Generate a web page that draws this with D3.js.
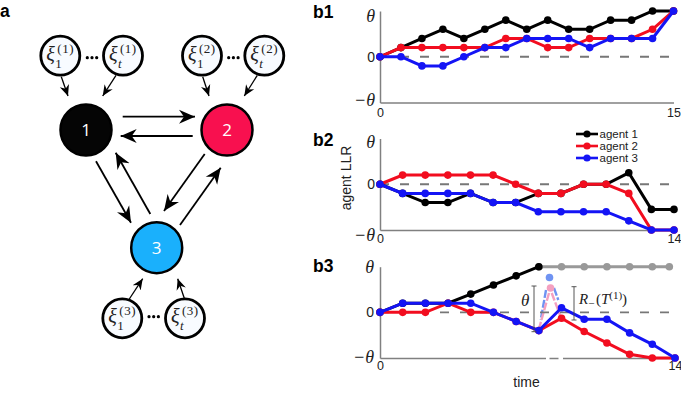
<!DOCTYPE html>
<html>
<head>
<meta charset="utf-8">
<script src="https://cdn.jsdelivr.net/npm/d3@7"></script>
<style>
  body { margin: 0; background: #fff; }
  text { font-family: "Liberation Sans", sans-serif; fill: #222; }
  .math { font-family: "Liberation Serif", serif; font-style: italic; }
</style>
</head>
<body>
<div id="chart"></div>
<script>
// LLR values, in units of theta
const b1Agent1 = [0, .2, .4, .6, .4, .6, .8, .6, .8, .6, .6, .8, .8, 1, 1];
const b1Agent2 = [0, .2, .2, .2, .2, .2, .4, .4, .2, .2, .4, .4, .4, .6, 1];
const b1Agent3 = [0, 0, -.2, -.2, 0, .2, .2, .4, .4, .4, .2, .4, .4, .4, 1];

const b2Agent1 = [0, -.2, -.4, -.4, -.2, -.4, -.4, -.2, -.2, 0, 0, .25, -.55, -.55];
const b2Agent2 = [0, .2, .2, .2, .2, .2, 0, -.2, -.2, 0, 0, -.2, -1, -1];
const b2Agent3 = [0, -.2, -.2, -.2, -.2, -.4, -.4, -.6, -.6, -.6, -.6, -.8, -1, -1];

const b3Agent1 = [0, .2, .2, .2, .4, .6, .8, 1];
const b3Agent1After = [1, 1, 1, 1, 1, 1, 1];
const b3AfterSteps = [7, 8, 9, 10, 11, 12, 12.75];
const b3Agent2 = [0, 0, 0, .2, 0, 0, -.2, -.4, -.13, -.42, -.67, -.92, -1, -1];
const b3Agent3 = [0, .2, .2, .2, .2, 0, -.2, -.4, .1, -.15, -.15, -.45, -.7, -1];

const legendNames = ["agent 1", "agent 2", "agent 3"];
const agentColors = ["#000000", "#f20d1f", "#1414f5"];
const afterColor = "#999999";

const width = 681, height = 394;
const svg = d3.select("#chart").append("svg")
    .attr("width", width)
    .attr("height", height);

// ---------- panel a, the network ----------
svg.append("defs").selectAll("marker")
    .data([["big", 16], ["small", 11]])
    .enter().append("marker")
    .attr("id", (d) => "head-" + d[0])
    .attr("markerUnits", "userSpaceOnUse")
    .attr("viewBox", "-16 -8 17 16")
    .attr("refX", 0).attr("refY", 0)
    .attr("markerWidth", (d) => d[1] * 17 / 16)
    .attr("markerHeight", (d) => d[1])
    .attr("orient", "auto")
    .append("path")
    .attr("d", "M0,0 L-16,-7 L-11,0 L-16,7 Z")
    .attr("fill", "#000");

const mainArrows = [
    [122.7, 116.7, 195, 116.7], [192.7, 136, 120.7, 136],
    [96, 161.3, 131, 222.7], [150.3, 214, 115.7, 152.7],
    [204.7, 154, 164, 211], [180, 225, 220.7, 167.7]
];
const smallArrows = [
    [61.3, 76.7, 68, 96], [116, 75.3, 102.7, 96],
    [202.7, 76.7, 209, 96], [257.3, 75.3, 244.3, 96],
    [129.3, 299, 142.7, 278.7], [184.3, 298.3, 177.7, 278.7]
];

function drawArrows(list, size, sw) {
    svg.append("g").selectAll("line").data(list).enter().append("line")
        .attr("x1", (d) => d[0]).attr("y1", (d) => d[1])
        .attr("x2", (d) => d[2]).attr("y2", (d) => d[3])
        .attr("stroke", "#000")
        .attr("stroke-width", sw)
        .attr("marker-end", "url(#head-" + size + ")");
}
drawArrows(mainArrows, "big", 1.8);
drawArrows(smallArrows, "small", 1.3);

const agents = [
    { name: "1", x: 86, y: 130, fill: "#050505" },
    { name: "2", x: 227, y: 130, fill: "#f8104f" },
    { name: "3", x: 156.7, y: 247.7, fill: "#1ab0fc" }
];
const bigNodes = svg.append("g").selectAll("g").data(agents).enter().append("g")
    .attr("transform", (d) => `translate(${d.x},${d.y})`);
bigNodes.append("circle")
    .attr("r", 25.5)
    .attr("fill", (d) => d.fill)
    .attr("stroke", "#000")
    .attr("stroke-width", 2.5);
bigNodes.append("text")
    .attr("text-anchor", "middle")
    .attr("y", 6)
    .style("font-family", "'Open Sans', sans-serif")
    .style("font-size", "17px")
    .style("fill", "#fff")
    .text((d) => d.name);

const signals = [
    { x: 60.3, y: 55.7, agent: 1, sub: "1" }, { x: 123, y: 55.7, agent: 1, sub: "t" },
    { x: 202, y: 55.7, agent: 2, sub: "1" }, { x: 264.3, y: 55.7, agent: 2, sub: "t" },
    { x: 122.3, y: 318.3, agent: 3, sub: "1" }, { x: 185, y: 318.3, agent: 3, sub: "t" }
];
const sigNodes = svg.append("g").selectAll("g").data(signals).enter().append("g")
    .attr("transform", (d) => `translate(${d.x},${d.y})`);
sigNodes.append("circle")
    .attr("r", 19.5)
    .attr("fill", "#f8fbff")
    .attr("stroke", "#000")
    .attr("stroke-width", 2.8);
sigNodes.append("text")
    .attr("x", -14).attr("y", 5)
    .style("font-family", "'Liberation Serif', serif")
    .style("font-style", "italic")
    .style("font-size", "20px")
    .text("ξ");
sigNodes.append("text")
    .attr("x", -3).attr("y", -3)
    .style("font-family", "'Liberation Serif', serif")
    .style("font-size", "13px")
    .style("letter-spacing", "0.5px")
    .text((d) => `(${d.agent})`);
sigNodes.append("text")
    .attr("x", -5).attr("y", 12)
    .style("font-family", "'Liberation Serif', serif")
    .style("font-style", (d) => d.sub == "t" ? "italic" : "normal")
    .style("font-size", "13px")
    .text((d) => d.sub);

// the three dots between each signal pair
[[87.3, 57.7], [228.7, 57.7], [149, 316.7]].forEach((p) => {
    [0, 4.7, 9.4].forEach((dx) => {
        svg.append("circle")
            .attr("cx", p[0] + dx)
            .attr("cy", p[1])
            .attr("r", 1.6)
            .attr("fill", "#000");
    });
});

// the faded walker in b3, under the agent lines
const walker = [
    ["#6f93f2", [[546, 290, 540.7, 320], [554, 288, 558.3, 300]]],
    ["#f4a0c0", [[549, 293, 539.5, 327], [551.7, 293, 560, 315]]]
];
walker.forEach((w) => {
    svg.append("g").selectAll("line").data(w[1]).enter().append("line")
        .attr("x1", (d) => d[0]).attr("y1", (d) => d[1])
        .attr("x2", (d) => d[2]).attr("y2", (d) => d[3])
        .attr("stroke", w[0])
        .attr("stroke-width", 2.4)
        .attr("stroke-dasharray", "8 2");
});
svg.append("circle").attr("cx", 549.5).attr("cy", 277.5).attr("r", 3.8).attr("fill", "#6f93f2");
svg.append("circle").attr("cx", 550.5).attr("cy", 288).attr("r", 3.8).attr("fill", "#f4a0c0");

// ---------- panels b1 to b3 ----------
function drawPanel(opt) {
    const xScale = d3.scaleLinear().domain([0, opt.lastStep]).range([380, opt.right]);
    const yScale = d3.scaleLinear().domain([-1, 1]).range([opt.bottom, opt.top]);

    // zero line
    svg.append("line")
        .attr("x1", 380).attr("x2", opt.right)
        .attr("y1", yScale(0)).attr("y2", yScale(0))
        .attr("stroke", "#777")
        .attr("stroke-width", 1.8)
        .attr("stroke-dasharray", "9 11");

    // axes
    const xAxis = svg.append("g")
        .attr("transform", `translate(0,${opt.bottom})`)
        .call(d3.axisBottom(xScale)
            .tickValues([0, opt.lastStep])
            .tickFormat((d, i) => opt.xLabels[i])
            .tickSize(0)
            .tickPadding(opt.xPad));
    xAxis.selectAll("text").style("font-size", "12.5px");

    const yAxis = svg.append("g")
        .attr("transform", "translate(380,0)")
        .call(d3.axisLeft(yScale)
            .tickValues([-1, 0, 1])
            .tickFormat((d) => d == 1 ? "θ" : d == -1 ? "−θ" : "0")
            .tickSize(0)
            .tickPadding(opt.yPad));
    yAxis.selectAll("text")
        .attr("class", (d) => d == 0 ? null : "math")
        .attr("transform", (d) => `translate(0,${d == 1 ? opt.thetaDy : d == -1 ? opt.minusDy : 0})`)
        .style("font-size", (d) => d == 0 ? "14px" : "18px");
    svg.selectAll(".domain").attr("stroke", "#808080").attr("stroke-width", 1.5);

    const line = d3.line().x((d) => xScale(d[0])).y((d) => yScale(d[1]));
    opt.series.forEach((s) => {
        const pts = s.values.map((v, i) => [s.steps ? s.steps[i] : i, v]);
        const g = svg.append("g");
        g.append("path")
            .attr("d", line(pts))
            .attr("fill", "none")
            .attr("stroke", s.color)
            .attr("stroke-width", 3);
        g.selectAll("circle").data(pts).enter().append("circle")
            .attr("cx", (d) => xScale(d[0]))
            .attr("cy", (d) => yScale(d[1]))
            .attr("r", 3.8)
            .attr("fill", s.color);
    });
}

drawPanel({
    lastStep: 14, right: 673.5, top: 11, bottom: 102.5, xLabels: ["0", "15"],
    xPad: 6, yPad: 5, thetaDy: 4.5, minusDy: -2.5,
    series: [
        { values: b1Agent1, color: agentColors[0] },
        { values: b1Agent2, color: agentColors[1] },
        { values: b1Agent3, color: agentColors[2] }
    ]
});
drawPanel({
    lastStep: 13, right: 674, top: 138.5, bottom: 230, xLabels: ["0", "14"],
    xPad: 4, yPad: 5, thetaDy: 3.5, minusDy: 5,
    series: [
        { values: b2Agent1, color: agentColors[0] },
        { values: b2Agent2, color: agentColors[1] },
        { values: b2Agent3, color: agentColors[2] }
    ]
});
drawPanel({
    lastStep: 13, right: 675, top: 266.7, bottom: 358, xLabels: ["0", "14"],
    xPad: 3, yPad: 6, thetaDy: 0.5, minusDy: -1,
    series: [
        { values: b3Agent1After, steps: b3AfterSteps, color: afterColor },
        { values: b3Agent1, color: agentColors[0] },
        { values: b3Agent2, color: agentColors[1] },
        { values: b3Agent3, color: agentColors[2] }
    ]
});

// legend in b2
legendNames.forEach((name, i) => {
    const ly = 134 + i * 12;
    svg.append("line")
        .attr("x1", 576).attr("x2", 598)
        .attr("y1", ly).attr("y2", ly)
        .attr("stroke", agentColors[i])
        .attr("stroke-width", 2.6);
    svg.append("circle")
        .attr("cx", 587).attr("cy", ly).attr("r", 3.6)
        .attr("fill", agentColors[i]);
    svg.append("text")
        .attr("x", 599.5).attr("y", ly + 4)
        .style("font-size", "11.5px")
        .text(name);
});

// axis titles
svg.append("text")
    .attr("transform", "translate(351,178) rotate(-90)")
    .attr("text-anchor", "middle")
    .style("font-size", "14px")
    .text("agent LLR");
svg.append("text")
    .attr("x", 526.5).attr("y", 387)
    .attr("text-anchor", "middle")
    .style("font-size", "14px")
    .text("time");

// panel letters
[["a", 0, 17], ["b1", 313, 17.5], ["b2", 313, 145.5], ["b3", 313, 272]].forEach((d) => {
    svg.append("text")
        .attr("x", d[1]).attr("y", d[2])
        .style("font-size", "17.5px")
        .style("font-weight", "bold")
        .style("fill", "#000")
        .text(d[0]);
});

// ---------- b3 annotation ----------
// broken bottom axis under the stick figure
[[546, 3.5], [558.5, 4.5]].forEach((d) => {
    svg.append("rect")
        .attr("x", d[0]).attr("y", 356)
        .attr("width", d[1]).attr("height", 4)
        .attr("fill", "#fff");
});

// brackets
[[534, 286, 331.7], [574, 286.7, 320]].forEach((b) => {
    const g = svg.append("g").attr("stroke", "#444").attr("stroke-width", 0.9);
    g.append("line").attr("x1", b[0]).attr("x2", b[0]).attr("y1", b[1]).attr("y2", b[2]);
    g.append("line").attr("x1", b[0] - 2.5).attr("x2", b[0] + 2.5).attr("y1", b[1]).attr("y2", b[1]);
    g.append("line").attr("x1", b[0] - 2.5).attr("x2", b[0] + 2.5).attr("y1", b[2]).attr("y2", b[2]);
});
svg.append("text")
    .attr("class", "math")
    .attr("x", 521).attr("y", 306)
    .style("font-size", "17px")
    .text("θ");

const rLabel = svg.append("text")
    .attr("x", 579).attr("y", 304)
    .style("font-family", "'Liberation Serif', serif")
    .style("font-size", "15px");
rLabel.append("tspan").style("font-style", "italic").text("R");
rLabel.append("tspan").attr("dy", 2.5).style("font-size", "11px").text("−");
rLabel.append("tspan").attr("dy", -2.5).attr("dx", 1.5).text("(");
rLabel.append("tspan").style("font-style", "italic").text("T");
rLabel.append("tspan").attr("dy", -5).style("font-size", "11px").text("(1)");
rLabel.append("tspan").attr("dy", 5).text(")");
</script>
</body>
</html>
